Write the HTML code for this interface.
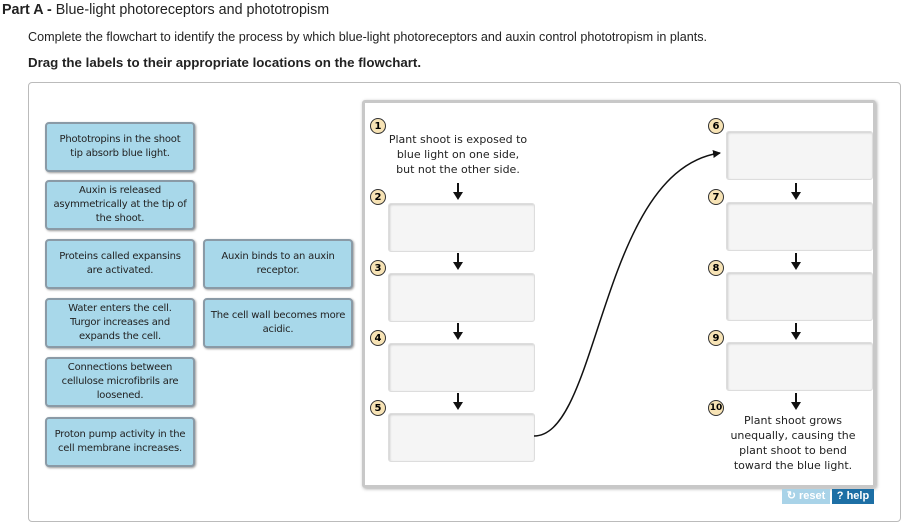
<!DOCTYPE html>
<html><head><style>
body{margin:0;width:913px;height:527px;background:#fff;font-family:"DejaVu Sans","Liberation Sans",sans-serif;position:relative;overflow:hidden}
.a{position:absolute}
.t{font-family:"Liberation Sans",sans-serif;color:#222}
.lbl{position:absolute;background:#a8d8ea;border:2px solid #8a9aa6;border-radius:4px;font-size:10px;color:#222;display:flex;align-items:center;justify-content:center;text-align:center;line-height:14px;box-sizing:border-box;box-shadow:1px 1px 2px #999;letter-spacing:-0.2px}
.drop{position:absolute;background:#f5f5f5;border:1px solid #ddd;border-radius:3px;width:145px;height:47px;box-shadow:inset 1px 1px 2px #ccc}
.num{position:absolute;width:16px;height:16px;border-radius:50%;background:#f7e3b5;border:1.5px solid #333;font-size:10px;font-weight:bold;display:flex;align-items:center;justify-content:center;box-sizing:border-box}
.txt{position:absolute;font-size:11px;text-align:center;line-height:15px;color:#222}
</style></head><body>
<div class="a t" style="left:2px;top:2px;font-size:14.3px"><b>Part A -</b> Blue-light photoreceptors and phototropism</div>
<div class="a t" style="left:28px;top:30px;font-size:12.6px">Complete the flowchart to identify the process by which blue-light photoreceptors and auxin control phototropism in plants.</div>
<div class="a t" style="left:28px;top:55px;font-size:13.3px;font-weight:bold">Drag the labels to their appropriate locations on the flowchart.</div>
<div class="a" style="left:28px;top:82px;width:871px;height:438px;border:1px solid #bbb;border-radius:4px"></div>
<div class="a" style="left:362px;top:100px;width:508px;height:382px;border:3px solid #c8c8c8;border-radius:3px;box-shadow:1px 1px 3px #aaa"></div>

<div class="lbl" style="left:45px;top:122px;width:150px;height:50px">Phototropins in the shoot<br>tip absorb blue light.</div>
<div class="lbl" style="left:45px;top:180px;width:150px;height:50px">Auxin is released<br>asymmetrically at the tip of<br>the shoot.</div>
<div class="lbl" style="left:45px;top:239px;width:150px;height:50px">Proteins called expansins<br>are activated.</div>
<div class="lbl" style="left:203px;top:239px;width:150px;height:50px">Auxin binds to an auxin<br>receptor.</div>
<div class="lbl" style="left:45px;top:298px;width:150px;height:50px">Water enters the cell.<br>Turgor increases and<br>expands the cell.</div>
<div class="lbl" style="left:203px;top:298px;width:150px;height:50px;white-space:nowrap">The cell wall becomes more<br>acidic.</div>
<div class="lbl" style="left:45px;top:357px;width:150px;height:50px">Connections between<br>cellulose microfibrils are<br>loosened.</div>
<div class="lbl" style="left:45px;top:417px;width:150px;height:50px">Proton pump activity in the<br>cell membrane increases.</div>

<div class="num" style="left:370px;top:118px">1</div>
<div class="num" style="left:370px;top:189px">2</div>
<div class="num" style="left:370px;top:260px">3</div>
<div class="num" style="left:370px;top:330px">4</div>
<div class="num" style="left:370px;top:400px">5</div>
<div class="num" style="left:708px;top:118px">6</div>
<div class="num" style="left:708px;top:189px">7</div>
<div class="num" style="left:708px;top:260px">8</div>
<div class="num" style="left:708px;top:330px">9</div>
<div class="num" style="left:708px;top:400px;font-size:9px">10</div>

<div class="txt" style="left:380px;top:132px;width:156px">Plant shoot is exposed to<br>blue light on one side,<br>but not the other side.</div>
<div class="txt" style="left:715px;top:413px;width:156px">Plant shoot grows<br>unequally, causing the<br>plant shoot to bend<br>toward the blue light.</div>

<div class="drop" style="left:388px;top:203px"></div>
<div class="drop" style="left:388px;top:273px"></div>
<div class="drop" style="left:388px;top:343px"></div>
<div class="drop" style="left:388px;top:413px"></div>
<div class="drop" style="left:726px;top:131px"></div>
<div class="drop" style="left:726px;top:202px"></div>
<div class="drop" style="left:726px;top:272px"></div>
<div class="drop" style="left:726px;top:342px"></div>

<svg class="a" style="left:0;top:0" width="913" height="527">
<defs><marker id="m" markerWidth="8" markerHeight="8" refX="7" refY="4" orient="auto" markerUnits="userSpaceOnUse"><path d="M0,0 L8,4 L0,8z" fill="#111"/></marker></defs>
<g stroke="#111" stroke-width="2" fill="#111">
<line x1="458" y1="183" x2="458" y2="193"/><path d="M453,192 h10 l-5,8z" stroke="none"/>
<line x1="458" y1="253" x2="458" y2="263"/><path d="M453,262 h10 l-5,8z" stroke="none"/>
<line x1="458" y1="323" x2="458" y2="333"/><path d="M453,332 h10 l-5,8z" stroke="none"/>
<line x1="458" y1="393" x2="458" y2="403"/><path d="M453,402 h10 l-5,8z" stroke="none"/>
<line x1="796" y1="183" x2="796" y2="193"/><path d="M791,192 h10 l-5,8z" stroke="none"/>
<line x1="796" y1="253" x2="796" y2="263"/><path d="M791,262 h10 l-5,8z" stroke="none"/>
<line x1="796" y1="323" x2="796" y2="333"/><path d="M791,332 h10 l-5,8z" stroke="none"/>
<line x1="796" y1="393" x2="796" y2="403"/><path d="M791,402 h10 l-5,8z" stroke="none"/>
</g>
<path d="M534,436 C600,436 600,170 720,153" fill="none" stroke="#111" stroke-width="1.5" marker-end="url(#m)"/>
</svg>

<div class="a" style="left:782px;top:489px;width:48px;height:15px;background:#a9d3e8;color:#fff;font:bold 11px 'Liberation Sans',sans-serif;text-align:center;line-height:15px">↻ reset</div>
<div class="a" style="left:832px;top:489px;width:42px;height:15px;background:#1d6fa5;color:#fff;font:bold 11px 'Liberation Sans',sans-serif;text-align:center;line-height:15px">? help</div>
</body></html>
